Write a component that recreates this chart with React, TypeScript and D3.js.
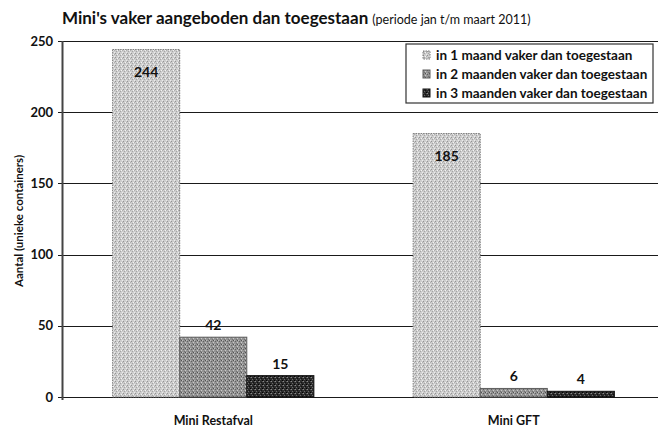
import React, { useRef, useEffect } from "react";
import * as d3 from "d3";

// data
const categories = ["Mini Restafval", "Mini GFT"];
const seriesNames = [
  "in 1 maand vaker dan toegestaan",
  "in 2 maanden vaker dan toegestaan",
  "in 3 maanden vaker dan toegestaan",
];
const oneMonth = [244, 185];
const twoMonths = [42, 6];
const threeMonths = [15, 4];
const yTicks = [0, 50, 100, 150, 200, 250];

const FONT = "Lato, 'Open Sans', sans-serif";

const App = () => {
  const d3Container = useRef<SVGSVGElement | null>(null);
  const width = 658;
  const height = 430;

  useEffect(() => {
    if (!d3Container.current) return;
    const svg = d3.select(d3Container.current);
    svg.selectAll("*").remove();

    const margins = { left: 63, right: -6, top: 41, bottom: 33 };
    const w = width - margins.left - margins.right;
    const h = height - margins.top - margins.bottom;

    // patterns to imitate the scanned dither
    const defs = svg.append("defs");
    const makePattern = (id: string, base: string, dots: [number, number, string][]) => {
      const p = defs
        .append("pattern")
        .attr("id", id)
        .attr("width", 4)
        .attr("height", 4)
        .attr("patternUnits", "userSpaceOnUse");
      p.append("rect").attr("width", 4).attr("height", 4).attr("fill", base);
      dots.forEach(([x, y, c]) => {
        p.append("rect").attr("x", x).attr("y", y).attr("width", 1).attr("height", 1).attr("fill", c);
      });
    };
    makePattern("p1", "#cdcdcd", [[0, 0, "#949494"], [2, 1, "#f4f4f4"], [1, 2, "#a4a4a4"], [3, 3, "#ececec"], [3, 1, "#b0b0b0"]]);
    makePattern("p2", "#949494", [[0, 0, "#626262"], [2, 1, "#cacaca"], [1, 2, "#727272"], [3, 3, "#bebebe"], [2, 3, "#525252"]]);
    makePattern("p3", "#2c2c2c", [[0, 0, "#8a8a8a"], [2, 1, "#111111"], [1, 2, "#6a6a6a"], [3, 3, "#000000"], [3, 0, "#555555"]]);

    const fills = ["url(#p1)", "url(#p2)", "url(#p3)"];
    const strokes = ["#7a7a7a", "#5e5e5e", "#111111"];
    const series = [oneMonth, twoMonths, threeMonths];

    // title
    const title = svg
      .append("text")
      .attr("x", 62)
      .attr("y", 24)
      .attr("font-family", FONT)
      .attr("font-weight", "bold")
      .attr("fill", "#111");
    title.append("tspan").attr("font-size", 17).text("Mini's vaker aangeboden dan toegestaan ");
    title.append("tspan").attr("font-size", 12.5).attr("font-weight", "normal").text("(periode jan t/m maart 2011)");

    const g = svg
      .append("g")
      .attr("transform", "translate(" + margins.left + "," + margins.top + ")");

    const yScale = d3.scaleLinear().domain([0, 250]).range([h, 0]);
    const xScale = d3.scaleBand().domain(categories).range([0, w]).paddingInner(0).paddingOuter(0);
    const xInner = d3
      .scaleBand()
      .domain(d3.range(series.length).map(String))
      .range([0, xScale.bandwidth()])
      .paddingOuter(0.74)
      .paddingInner(0);

    // gridlines
    g.append("g")
      .selectAll("line")
      .data(yTicks)
      .join("line")
      .attr("x1", -5)
      .attr("x2", w)
      .attr("y1", (d) => Math.round(yScale(d)) + 0.5)
      .attr("y2", (d) => Math.round(yScale(d)) + 0.5)
      .attr("stroke", "#1a1a1a")
      .attr("stroke-width", 1.2);

    // tick labels
    g.append("g")
      .selectAll("text")
      .data(yTicks)
      .join("text")
      .attr("x", -10)
      .attr("y", (d) => yScale(d))
      .attr("dy", "0.35em")
      .attr("text-anchor", "end")
      .attr("font-family", FONT)
      .attr("font-weight", "bold")
      .attr("font-size", 13)
      .attr("fill", "#111")
      .text((d) => d);

    // axis line
    g.append("line")
      .attr("x1", -0.5)
      .attr("x2", -0.5)
      .attr("y1", 0)
      .attr("y2", h + 3)
      .attr("stroke", "#444")
      .attr("stroke-width", 2);

    // y label
    svg
      .append("text")
      .attr("transform", `translate(19,221) rotate(-90)`)
      .attr("text-anchor", "middle")
      .attr("dy", "0.35em")
      .attr("font-family", FONT)
      .attr("font-weight", "bold")
      .attr("font-size", 11.5)
      .attr("fill", "#111")
      .text("Aantal (unieke containers)");

    // bars
    series.forEach((values, si) => {
      const sg = g.append("g");
      sg.selectAll("rect")
        .data(values)
        .join("rect")
        .attr("x", (d, i) => (xScale(categories[i]) as number) + (xInner(String(si)) as number))
        .attr("y", (d) => yScale(d))
        .attr("width", xInner.bandwidth())
        .attr("height", (d) => h - yScale(d))
        .attr("fill", fills[si])
        .attr("stroke", strokes[si])
        .attr("stroke-width", 1)
        .attr("stroke-dasharray", si === 0 ? "1.5,1" : null);

      sg.selectAll("text")
        .data(values)
        .join("text")
        .attr("x", (d, i) => (xScale(categories[i]) as number) + (xInner(String(si)) as number) + xInner.bandwidth() / 2)
        .attr("y", (d) => (d > 100 ? yScale(d) + 23 : yScale(d) - 12))
        .attr("dy", "0.35em")
        .attr("text-anchor", "middle")
        .attr("font-family", FONT)
        .attr("font-weight", "bold")
        .attr("font-size", 14)
        .attr("fill", "#111")
        .text((d) => d);
    });

    // category labels
    g.append("g")
      .selectAll("text")
      .data(categories)
      .join("text")
      .attr("x", (d) => (xScale(d) as number) + xScale.bandwidth() / 2)
      .attr("y", h + 28)
      .attr("text-anchor", "middle")
      .attr("font-family", FONT)
      .attr("font-weight", "bold")
      .attr("font-size", 12.5)
      .attr("fill", "#111")
      .text((d) => d);

    // legend
    const legend = svg.append("g").attr("transform", "translate(406,44)");
    legend
      .append("rect")
      .attr("width", 247)
      .attr("height", 59)
      .attr("fill", "white")
      .attr("stroke", "#333")
      .attr("stroke-width", 1.2);
    const items = legend
      .selectAll("g")
      .data(seriesNames)
      .join("g")
      .attr("transform", (d, i) => `translate(17,${11 + i * 19})`);
    items
      .append("rect")
      .attr("width", 7)
      .attr("height", 8)
      .attr("y", -4)
      .attr("fill", (d, i) => fills[i])
      .attr("stroke", (d, i) => strokes[i])
      .attr("stroke-dasharray", (d, i) => (i === 0 ? "1.5,1" : null));
    items
      .append("text")
      .attr("x", 13)
      .attr("dy", "0.35em")
      .attr("font-family", FONT)
      .attr("font-weight", "bold")
      .attr("font-size", 13.5)
      .attr("fill", "#111")
      .text((d) => d);
  }, []);

  return (
    <svg
      ref={d3Container}
      width={width}
      height={height}
      style={{ position: "absolute", left: 0, top: 0, background: "white" }}
    />
  );
};

export default App;
